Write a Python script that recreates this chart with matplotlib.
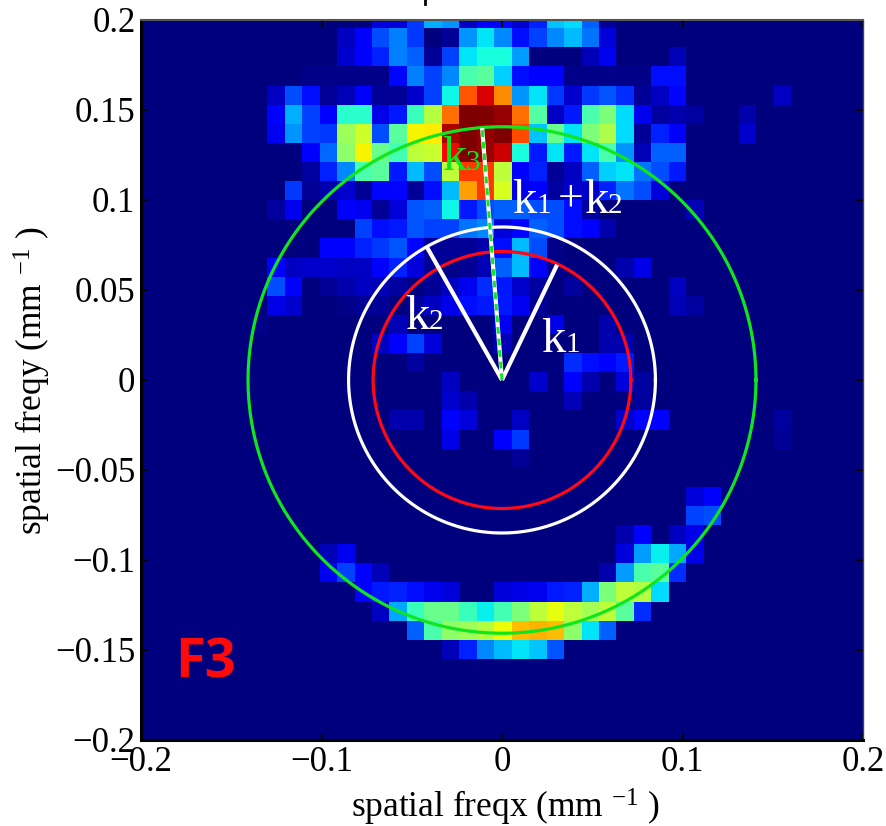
import numpy as np
import matplotlib
matplotlib.use("Agg")
import matplotlib.pyplot as plt
from matplotlib.lines import Line2D

W, H = 886, 826
plt.rcParams['font.family'] = ['Liberation Serif', 'DejaVu Serif']
plt.rcParams['mathtext.fontset'] = 'custom'
plt.rcParams['mathtext.rm'] = 'Liberation Serif'
plt.rcParams['mathtext.default'] = 'rm'

N_ROWS, N_COLS = 39, 41
# row index -> (first column, colour values on a 0-100 jet scale)
heat_rows = {
 0: (13, [8,8,18,30,27,6,11,13,7,16,32,34,22,2]),
 1: (11, [6,11,20,25,18,0,2,27,35,26,14,19,26,31,24,8]),
 2: (11, [7,11,16,25,22,2,19,35,38,38,28,0,0,0,5,10,0,0,0,5]),
 3: (9, [1,1,1,1,1,13,25,19,26,44,46,33,14,12,12,1,1,1,1,1,14,14]),
 4: (7, [6,20,14,2,5,11,2,2,7,19,37,82,92,76,27,35,18,7,18,21,17,2,6,13,0,0,0,0,0,6]),
 5: (7, [12,30,19,11,40,40,9,15,42,57,79,100,100,98,79,45,6,15,44,50,34,10,3,4,3,0,0,4]),
 6: (7, [10,27,19,18,54,60,20,46,65,66,96,100,98,100,83,32,48,35,50,56,34,2,16,11,0,0,0,7]),
 7: (9, [11,23,52,65,48,43,58,59,90,100,98,93,38,15,35,15,35,44,27,5,22,22]),
 8: (9, [3,16,26,44,46,15,31,20,58,85,85,58,12,16,2,6,22,33,35,24,20,15]),
 9: (8, [18,2,4,7,2,13,13,2,14,31,74,85,61,9,12,3,7,7,16,24,20,8]),
 10: (7, [3,10,0,0,12,10,2,8,21,22,37,15,20,22,22,20,20,14,3,0,0,0,0,0,5]),
 11: (12, [19,14,15,21,19,19,24,26,8,13,22,20,14,12,4]),
 12: (10, [11,11,16,18,21,13,2,2,2,4,14,31,20,1]),
 13: (7, [12,6,7,7,6,6,12,16,8,2,1,2,5,22,31,11,1,0,0,0,4,9]),
 14: (7, [20,11,0,2,4,6,5,3,0,2,6,10,17,15,7,3,0,3,0,0,0,0,0,6]),
 15: (7, [9,7,0,0,1,2,2,0,3,6,9,14,15,15,10,2,0,0,0,0,0,0,0,5,3]),
 16: (6, [1,0,0,0,0,0,0,0,5,0,0,0,0,0,10,0,0,9,0,0,4]),
 17: (13, [6,11,19,8,0,0,0,5,0,0,0,0,0,4,4]),
 18: (15, [3,0,0,0,0,0,0,0,0,17,14,12,15]),
 19: (17, [6,0,0,0,0,7,0,11,4,0,8,3]),
 20: (17, [7,4,0,0,0,0,0,5,0,0,0,3]),
 21: (14, [4,4,0,12,8,0,0,6,0,0,0,0,0,7,11,11,0,0,0,0,0,0,3]),
 22: (17, [9,0,0,12,18,0,0,0,0,0,0,0,0,0,0,0,0,0,0,2]),
 23: (21, [2]),
 25: (31, [8,11]),
 26: (31, [19,20]),
 27: (27, [4,11,0,6,9]),
 28: (10, [5,10,0,0,0,0,0,0,0,0,0,0,0,0,0,0,0,8,28,36,29,9]),
 29: (10, [10,19,12,5,0,0,0,0,0,0,0,0,0,0,0,0,4,28,44,46,17]),
 30: (12, [12,15,16,14,10,8,0,0,8,9,10,15,16,30,50,58,57,34]),
 31: (13, [6,29,42,48,48,42,36,43,50,58,63,58,55,58,46,17]),
 32: (15, [22,44,52,54,57,64,71,72,71,52,35,22]),
 33: (17, [5,16,26,31,35,32,21]),
}

radius_red, radius_white, radius_green = 0.0714, 0.085, 0.1407
k1_tip = (0.0305, 0.064)
k2_tip = (-0.0417, 0.074)
k3_tip = (-0.011, 0.14)
x_ticks = [-0.2, -0.1, 0, 0.1, 0.2]
x_tick_labels = ['\u22120.2', '\u22120.1', '0', '0.1', '0.2']
y_ticks = [-0.2, -0.15, -0.1, -0.05, 0, 0.05, 0.1, 0.15, 0.2]
y_tick_labels = ['\u22120.2', '\u22120.15', '\u22120.1', '\u22120.05', '0', '0.05', '0.1', '0.15', '0.2']

grid = np.zeros((N_ROWS, N_COLS))
for r, (start, vals) in heat_rows.items():
    grid[r, start:start + len(vals)] = vals

fig = plt.figure(figsize=(W / 100, H / 100), dpi=100)
ax = fig.add_axes([141 / W, 1 - 740 / H, 722 / W, 720 / H])
ax.set_facecolor(plt.cm.jet(0.0))
ax.imshow(grid, cmap='jet', vmin=0, vmax=100, aspect='auto', interpolation='nearest',
          extent=[-0.1976, 0.1987, -0.208, 0.206], origin='upper')
ax.set_xlim(-0.2, 0.2)
ax.set_ylim(-0.2, 0.2)

theta = np.linspace(0, 2 * np.pi, 400)
for rad, col in [(radius_red, '#ff0a14'), (radius_white, 'white'), (radius_green, '#0fe61e')]:
    ax.plot(rad * np.cos(theta), rad * np.sin(theta), color=col, lw=2.3, zorder=3)
for tip in (k1_tip, k2_tip, k3_tip):
    ax.plot([0, tip[0]], [0, tip[1]], color='white', lw=3, zorder=4, solid_capstyle='butt')
ax.plot([0, k3_tip[0]], [0, k3_tip[1]], color='#0fe61e', lw=2.2, ls=(0, (2.2, 1.6)), zorder=5)


def px(x, y):
    return (x - 502) / 1805, (380 - y) / 1800


def ktext(x, y, sub, color='white'):
    ax.text(*px(x, y), 'k', color=color, fontsize=35, ha='left', va='baseline', zorder=6)
    ax.text(*px(x + 24, y), sub, color=color, fontsize=21, ha='left', va='baseline', zorder=6)


ktext(541, 352, '1')
ktext(405, 329, '2')
ktext(442, 170, '3', color='#0fe61e')
ktext(512, 213, '1')
ax.text(*px(558, 211), '+', color='white', fontsize=33, ha='left', va='baseline', zorder=6)
ktext(584, 213, '2')
ax.text(*px(175, 677), 'F3', color='#ff0a0a', fontsize=39, fontweight='bold',
        family='Open Sans', ha='left', va='baseline', zorder=6)

ax.set_xticks(x_ticks)
ax.set_xticklabels(x_tick_labels)
ax.set_yticks(y_ticks)
ax.set_yticklabels(y_tick_labels)
ax.tick_params(direction='in', length=5, width=1.4, top=True, right=True,
               labelsize=25, color='black')
ax.tick_params(axis='x', pad=4)
ax.tick_params(axis='y', pad=4)
for name, lw, col in [('left', 2.2, 'black'), ('bottom', 2.2, 'black'),
                      ('top', 1.5, '#555555'), ('right', 1.0, '#444444')]:
    ax.spines[name].set_linewidth(lw)
    ax.spines[name].set_color(col)

fig.text(505 / W, 1 - 818 / H, 'spatial freqx (mm $^{\u22121}$ )', fontsize=25.5,
         ha='center', va='baseline')
fig.text(53 / W, 1 - 381 / H, 'spatial freqy (mm $^{\u22121}$ )', fontsize=25.5,
         rotation=90, ha='right', va='center')
# remnant of a cropped title at the very top edge of the picture
fig.add_artist(Line2D([424.5 / W, 424.5 / W], [1 - 3.5 / H, 1.0], color='black', lw=2))

fig.savefig('out.png', dpi=100)
